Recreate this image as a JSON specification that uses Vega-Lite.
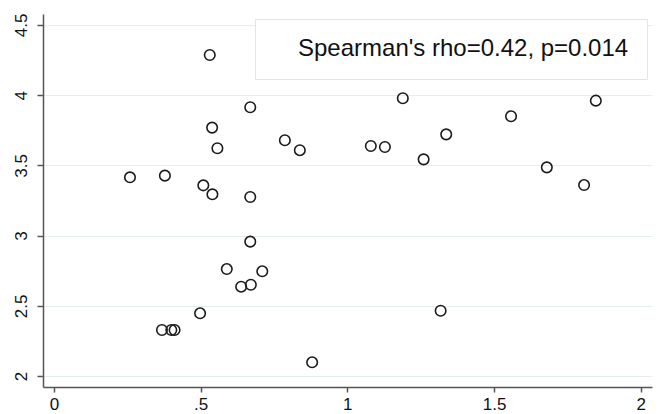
{
  "$schema": "https://vega.github.io/schema/vega-lite/v6.json",
  "width": 609,
  "height": 373,
  "autosize": {"type": "none"},
  "padding": {"left": 43, "top": 14, "right": 12, "bottom": 27},
  "background": "white",
  "config": {
    "view": {"stroke": null},
    "font": "Liberation Sans",
    "axis": {
      "labelFont": "Liberation Sans",
      "labelFontSize": 17,
      "labelColor": "#111111",
      "domainColor": "#555555",
      "domainWidth": 1.5,
      "tickColor": "#555555",
      "tickWidth": 1.5,
      "gridColor": "#e6eded",
      "gridWidth": 1,
      "title": null
    }
  },
  "data": {
    "values": [
      {"x": 0.259, "y": 3.415},
      {"x": 0.378, "y": 3.427},
      {"x": 0.368, "y": 2.328},
      {"x": 0.400, "y": 2.328},
      {"x": 0.411, "y": 2.328},
      {"x": 0.498, "y": 2.447},
      {"x": 0.509, "y": 3.358},
      {"x": 0.531, "y": 4.286},
      {"x": 0.539, "y": 3.769},
      {"x": 0.540, "y": 3.294},
      {"x": 0.557, "y": 3.622},
      {"x": 0.589, "y": 2.762},
      {"x": 0.638, "y": 2.636},
      {"x": 0.671, "y": 2.650},
      {"x": 0.669, "y": 3.914},
      {"x": 0.669, "y": 3.275},
      {"x": 0.669, "y": 2.957},
      {"x": 0.710, "y": 2.746},
      {"x": 0.787, "y": 3.679},
      {"x": 0.838, "y": 3.608},
      {"x": 0.880, "y": 2.098},
      {"x": 1.080, "y": 3.638},
      {"x": 1.128, "y": 3.631},
      {"x": 1.189, "y": 3.978},
      {"x": 1.260, "y": 3.543},
      {"x": 1.318, "y": 2.465},
      {"x": 1.337, "y": 3.721},
      {"x": 1.558, "y": 3.850},
      {"x": 1.680, "y": 3.486},
      {"x": 1.807, "y": 3.360},
      {"x": 1.847, "y": 3.961}
    ]
  },
  "mark": {"type": "point", "shape": "circle", "filled": false, "size": 110, "strokeWidth": 1.6, "opacity": 1},
  "encoding": {
    "x": {
      "field": "x",
      "type": "quantitative",
      "scale": {"domain": [-0.0375, 2.0385], "nice": false, "zero": false},
      "axis": {
        "values": [0, 0.5, 1, 1.5, 2],
        "format": "~g",
        "labelExpr": "datum.value == 0.5 ? '.5' : datum.label",
        "grid": false,
        "tickSize": 5,
        "labelPadding": 4,
        "labelFlush": false
      }
    },
    "y": {
      "field": "y",
      "type": "quantitative",
      "scale": {"domain": [1.922, 4.578], "nice": false, "zero": false},
      "axis": {
        "values": [2, 2.5, 3, 3.5, 4, 4.5],
        "format": "~g",
        "grid": true,
        "tickSize": 6,
        "labelAngle": -90,
        "labelAlign": "center",
        "labelBaseline": "bottom",
        "labelPadding": 7,
        "labelFlush": false
      }
    },
    "color": {
      "datum": "Spearman's rho=0.42, p=0.014",
      "type": "nominal",
      "scale": {"range": ["#1a1a1a"]},
      "legend": {
        "title": null,
        "orient": "top-right",
        "offset": 5,
        "padding": 18,
        "fillColor": "white",
        "strokeColor": "#e4e4e4",
        "symbolOpacity": 0,
        "symbolSize": 144,
        "labelOffset": 1,
        "labelFont": "Liberation Sans",
        "labelFontSize": 24,
        "labelColor": "#111111",
        "labelLimit": 600
      }
    }
  }
}
